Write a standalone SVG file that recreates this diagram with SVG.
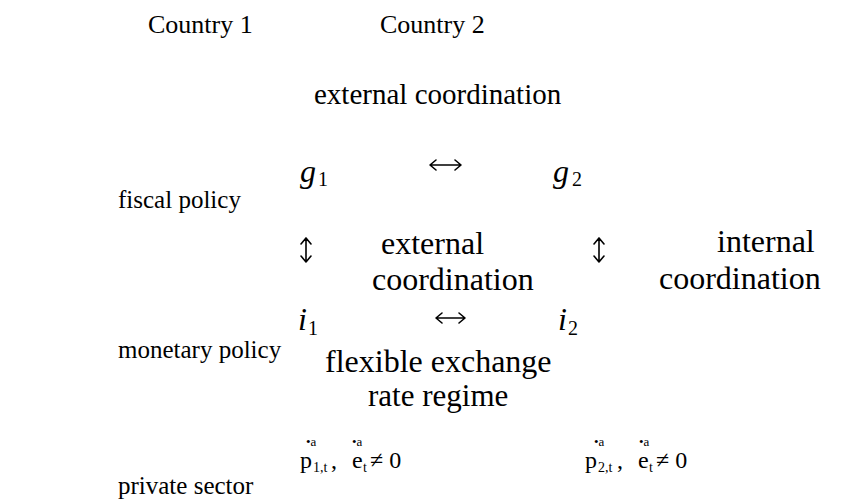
<svg xmlns="http://www.w3.org/2000/svg" width="847" height="504" viewBox="0 0 847 504" style="font-family:'Liberation Serif',serif">
<rect width="847" height="504" fill="#fff"/>
<g id="header" fill="#000">
<text style="font-family:'Liberation Serif',serif" font-size="26" x="148" y="33">Country 1</text>
<text style="font-family:'Liberation Serif',serif" font-size="26" x="380" y="33">Country 2</text>
<text style="font-family:'Liberation Serif',serif" font-size="29" x="314" y="104">external coordination</text>
</g>
<g id="labels" fill="#000">
<text style="font-family:'Liberation Serif',serif" font-size="25" x="118" y="208">fiscal policy</text>
<text style="font-family:'Liberation Serif',serif" font-size="25" x="118" y="358">monetary policy</text>
<text style="font-family:'Liberation Serif',serif" font-size="25" x="118" y="494">private sector</text>
</g>
<g id="g1"><text style="font-family:'Liberation Serif',serif" font-size="32" font-style="italic" x="300" y="182">g</text><text style="font-family:'Liberation Serif',serif" font-size="20" x="318" y="186">1</text></g>
<g id="g2"><text style="font-family:'Liberation Serif',serif" font-size="32" font-style="italic" x="553" y="182">g</text><text style="font-family:'Liberation Serif',serif" font-size="20" x="572" y="186">2</text></g>
<g id="i1"><text style="font-family:'Liberation Serif',serif" font-size="32" font-style="italic" x="298" y="330">i</text><text style="font-family:'Liberation Serif',serif" font-size="20" x="308" y="335">1</text></g>
<g id="i2"><text style="font-family:'Liberation Serif',serif" font-size="32" font-style="italic" x="558" y="330">i</text><text style="font-family:'Liberation Serif',serif" font-size="20" x="568" y="335">2</text></g>
<g id="ext2"><text style="font-family:'Liberation Serif',serif" font-size="32" x="381" y="254">external</text><text style="font-family:'Liberation Serif',serif" font-size="32" x="372" y="290">coordination</text></g>
<g id="int"><text style="font-family:'Liberation Serif',serif" font-size="32" x="717" y="252">internal</text><text style="font-family:'Liberation Serif',serif" font-size="32" x="659" y="289">coordination</text></g>
<g id="flex"><text style="font-family:'Liberation Serif',serif" font-size="32" x="325" y="372">flexible exchange</text><text style="font-family:'Liberation Serif',serif" font-size="31" x="368" y="406">rate regime</text></g>
<g id="ps1">
<text style="font-family:'Liberation Serif',serif" font-size="24" x="300" y="468">p</text><text style="font-family:'Liberation Serif',serif" font-size="14" x="313" y="472">1,t</text><text style="font-family:'Liberation Serif',serif" font-size="24" x="331" y="468">,</text>
<text style="font-family:'Liberation Serif',serif" font-size="24" x="352" y="468">e</text><text style="font-family:'Liberation Serif',serif" font-size="14" x="363" y="472">t</text><text style="font-family:'Liberation Serif',serif" font-size="24" x="370" y="468">≠ 0</text>
<text style="font-family:'Liberation Serif',serif" font-size="13" x="306" y="446">•a</text><text style="font-family:'Liberation Serif',serif" font-size="13" x="352" y="446">•a</text>
</g>
<g id="ps2">
<text style="font-family:'Liberation Serif',serif" font-size="24" x="585" y="468">p</text><text style="font-family:'Liberation Serif',serif" font-size="14" x="598" y="472">2,t</text><text style="font-family:'Liberation Serif',serif" font-size="24" x="617" y="468">,</text>
<text style="font-family:'Liberation Serif',serif" font-size="24" x="638" y="468">e</text><text style="font-family:'Liberation Serif',serif" font-size="14" x="649" y="472">t</text><text style="font-family:'Liberation Serif',serif" font-size="24" x="656" y="468">≠ 0</text>
<text style="font-family:'Liberation Serif',serif" font-size="13" x="594" y="446">•a</text><text style="font-family:'Liberation Serif',serif" font-size="13" x="639" y="446">•a</text>
</g>
<g id="connectors" fill="none" stroke="#000" stroke-width="1.6" stroke-linecap="round" stroke-linejoin="round">
<path d="M430 165H461M436 160L430 165L436 170M455 160L461 165L455 170"/>
<path d="M436 318H465M442 313L436 318L442 323M459 313L465 318L459 323"/>
<path d="M306 238V262M301 244L306 238L311 244M301 256L306 262L311 256"/>
<path d="M599 238V262M594 244L599 238L604 244M594 256L599 262L604 256"/>
</g>
</svg>
